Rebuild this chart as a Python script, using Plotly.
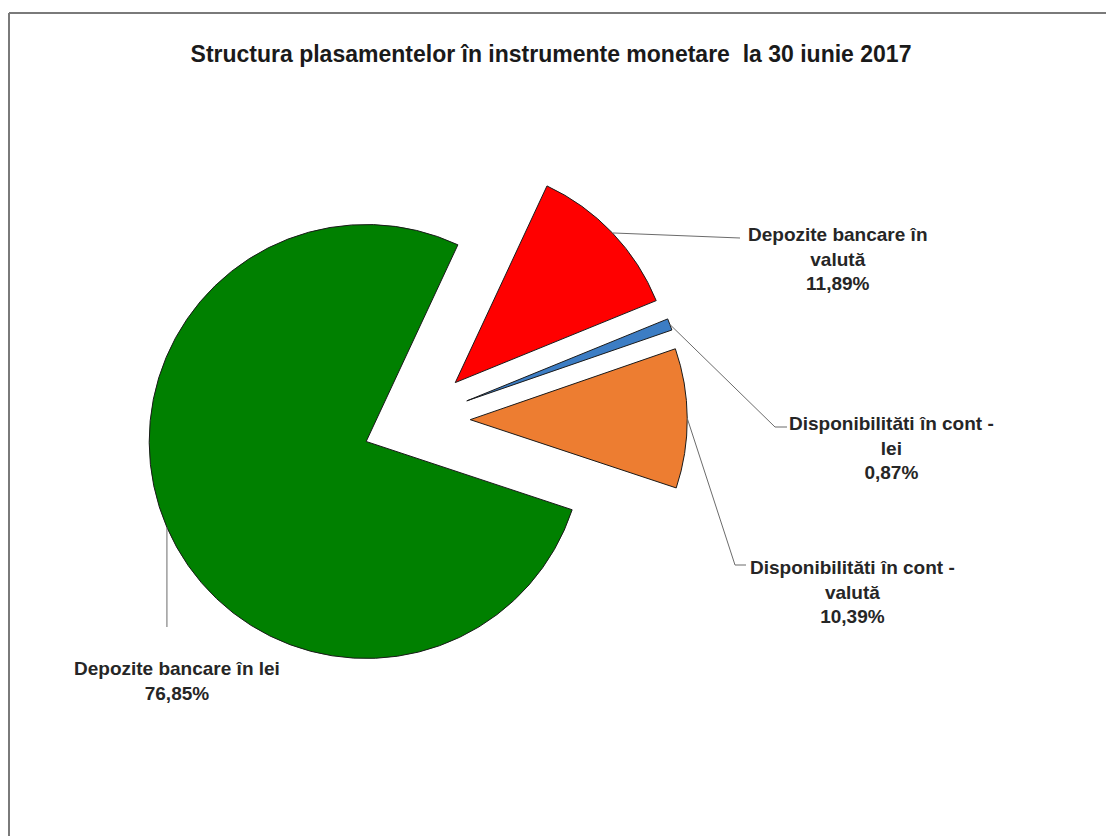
import math
import plotly.graph_objects as go

# ---- data ----
categories = [
    "Depozite bancare în valută",
    "Disponibilităti în cont - lei",
    "Disponibilităti în cont - valută",
    "Depozite bancare în lei",
]
label_lines = [
    "Depozite bancare în<br>valută",
    "Disponibilităti în cont -<br>lei",
    "Disponibilităti în cont -<br>valută",
    "Depozite bancare în lei",
]
values = [11.89, 0.87, 10.39, 76.85]
colors = ["#FF0000", "#3C7DC4", "#ED7D31", "#008000"]

W, H = 1106, 836
# pie geometry (pixels)
CX, CY = 416, 420
PULL = 0.25
R = 217
ROT = 25
avail = R * 2 * (1 + PULL)

dom_x = [(CX - avail / 2) / W, (CX + avail / 2) / W]
dom_y = [1 - (CY + avail / 2) / H, 1 - (CY - avail / 2) / H]

fig = go.Figure(go.Pie(
    labels=categories,
    values=values,
    sort=False,
    direction="clockwise",
    rotation=ROT,
    pull=[PULL] * len(values),
    marker=dict(colors=colors, line=dict(color="#1a1a1a", width=1)),
    textinfo="none",
    hoverinfo="skip",
    domain=dict(x=dom_x, y=dom_y),
    showlegend=False,
))

# compute arc midpoints of each (pulled) slice from the data
total = sum(values)
cum = 0.0
arc_pts = []
for v in values:
    a0 = ROT + cum / total * 360
    a1 = ROT + (cum + v) / total * 360
    cum += v
    mid = math.radians((a0 + a1) / 2)
    ux, uy = math.sin(mid), -math.cos(mid)
    pcx, pcy = CX + PULL * R * ux, CY + PULL * R * uy
    arc_pts.append((pcx + R * ux, pcy + R * uy))

# label anchor points (pixels): leader path ends and text centers
leader_ends = [
    [(740, 238)],
    [(775, 427), (787, 427)],
    [(735, 565), (746, 565)],
    [(None, 627)],  # vertical drop from the arc point
]
text_pos = [(838, 259), (891, 448), (852, 592), (177, 681)]

def px(x):
    return x / W

def py(y):
    return 1 - y / H

shapes = []
for (sx, sy), ends in zip(arc_pts, leader_ends):
    path = [(sx, sy)] + [((sx if x is None else x), y) for x, y in ends]
    d = "M " + " L ".join(f"{px(x)},{py(y)}" for x, y in path)
    shapes.append(dict(type="path", xref="paper", yref="paper", path=d,
                       line=dict(color="#6b6b6b", width=1)))

# frame lines (top & left)
shapes.append(dict(type="line", xref="paper", yref="paper",
                   x0=px(9), y0=py(13), x1=1, y1=py(13),
                   line=dict(color="#7a7a7a", width=2)))
shapes.append(dict(type="line", xref="paper", yref="paper",
                   x0=px(9), y0=py(13), x1=px(9), y1=0,
                   line=dict(color="#7a7a7a", width=2)))

FONT = "Liberation Sans Narrow, Arial Narrow, Liberation Sans, Arial, sans-serif"
annotations = []
for txt, v, (tx, ty) in zip(label_lines, values, text_pos):
    pct = f"{v:.2f}".replace(".", ",") + "%"
    annotations.append(dict(
        x=px(tx), y=py(ty), xref="paper", yref="paper",
        text=f"<b>{txt}<br>{pct}</b>", showarrow=False,
        xanchor="center", yanchor="middle", align="center",
        font=dict(family=FONT, size=19, color="#262626"),
    ))

fig.update_layout(
    width=W, height=H,
    margin=dict(l=0, r=0, t=0, b=0),
    paper_bgcolor="white",
    plot_bgcolor="white",
    title=dict(
        text="<b>Structura plasamentelor în instrumente monetare  la 30 iunie 2017</b>",
        x=551 / W, y=1 - 54 / H, xanchor="center", yanchor="middle",
        xref="paper", yref="container",
        font=dict(family=FONT, size=23, color="#1a1a1a"),
    ),
    shapes=shapes,
    annotations=annotations,
)

fig.write_html(
    "out.html",
    config={"displayModeBar": False},
    post_script="document.body.style.margin='0';document.body.style.overflow='hidden';",
)
